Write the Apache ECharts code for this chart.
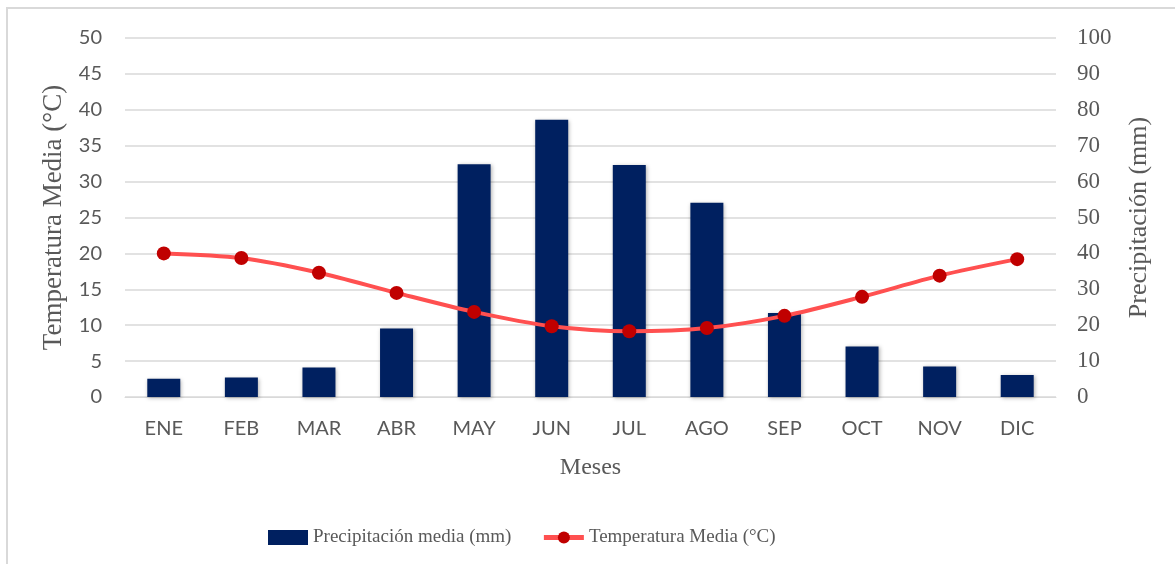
<!DOCTYPE html>
<html>
<head>
    <meta charset="utf-8">
    <title>Climograma</title>
    <script src="https://cdn.jsdelivr.net/npm/echarts@6/dist/echarts.min.js"></script>
    <style>
        html, body { margin: 0; padding: 0; background: #fff; }
    </style>
</head>
<body>
<div id="main" style="width: 1175px;height:564px;"></div>
<script type="text/javascript">
    // datos
    const meses = ['ENE', 'FEB', 'MAR', 'ABR', 'MAY', 'JUN', 'JUL', 'AGO', 'SEP', 'OCT', 'NOV', 'DIC'];
    const precipitacion = [5.1, 5.4, 8.2, 19.1, 64.8, 77.2, 64.6, 54.1, 23.4, 14.1, 8.5, 6.1];
    const temperatura = [20.0, 19.35, 17.3, 14.5, 11.85, 9.85, 9.15, 9.6, 11.3, 13.95, 16.9, 19.2];

    const gris = '#595959';
    const serif = '"Liberation Serif", "Times New Roman", serif';
    const sans = 'Lato, "Open Sans", sans-serif';

    const myChart = echarts.init(document.getElementById('main'));
    const option = {
        animation: false,
        graphic: [{
            type: 'rect',
            shape: {x: 7, y: 8, width: 1300, height: 700},
            style: {fill: 'none', stroke: '#d9d9d9', lineWidth: 2}
        }],
        grid: {left: 125, right: 119, top: 38, bottom: 167},
        legend: {
            bottom: 12,
            left: 263,
            itemGap: 30,
            itemWidth: 40,
            itemHeight: 15,
            textStyle: {fontFamily: serif, fontSize: 19, color: gris},
            data: [
                {name: 'Precipitación media (mm)', icon: 'rect'},
                {name: 'Temperatura Media (°C)', lineStyle: {width: 5}}
            ]
        },
        xAxis: {
            type: 'category',
            data: meses,
            name: 'Meses',
            nameLocation: 'middle',
            nameGap: 59,
            nameTextStyle: {fontFamily: serif, fontSize: 24, color: gris},
            axisLine: {lineStyle: {color: '#d9d9d9', width: 1}},
            axisTick: {show: false},
            axisLabel: {fontFamily: sans, fontSize: 20, color: gris, margin: 22}
        },
        yAxis: [
            {
                type: 'value',
                min: 0,
                max: 50,
                interval: 5,
                name: 'Temperatura Media (°C)',
                nameLocation: 'middle',
                nameGap: 50,
                nameTextStyle: {fontFamily: serif, fontSize: 27, color: gris},
                axisLine: {show: false},
                axisTick: {show: false},
                axisLabel: {fontFamily: sans, fontSize: 20, color: gris, margin: 23},
                splitLine: {lineStyle: {color: '#d9d9d9', width: 1.5}}
            },
            {
                type: 'value',
                min: 0,
                max: 100,
                interval: 10,
                name: 'Precipitación (mm)',
                nameLocation: 'middle',
                nameGap: 70,
                nameTextStyle: {fontFamily: serif, fontSize: 26, color: gris},
                axisLine: {show: false},
                axisTick: {show: false},
                axisLabel: {fontFamily: serif, fontSize: 23, color: gris, margin: 21},
                splitLine: {show: false}
            }
        ],
        series: [
            {
                name: 'Precipitación media (mm)',
                type: 'bar',
                yAxisIndex: 1,
                barWidth: 33,
                data: precipitacion,
                itemStyle: {
                    color: '#002060',
                    shadowBlur: 4,
                    shadowColor: 'rgba(0,0,0,0.3)',
                    shadowOffsetX: 1,
                    shadowOffsetY: 1
                }
            },
            {
                name: 'Temperatura Media (°C)',
                type: 'line',
                yAxisIndex: 0,
                smooth: 0.3,
                data: temperatura,
                symbol: 'circle',
                symbolSize: 14,
                lineStyle: {color: '#ff5050', width: 4},
                itemStyle: {color: '#c00000'}
            }
        ]
    };
    myChart.setOption(option);
</script>
</body>
</html>
